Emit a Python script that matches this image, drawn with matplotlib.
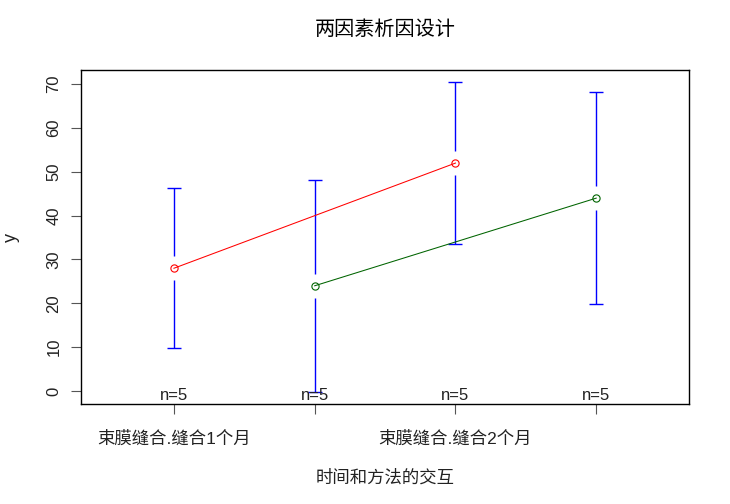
import matplotlib
matplotlib.use("Agg")
import matplotlib.pyplot as plt
import numpy as np

plt.rcParams['font.family'] = ['Liberation Sans', 'Noto Sans CJK SC']

# group means and half-widths of the confidence intervals
means = [28.0, 24.0, 52.0, 44.0]
half_ci = [18.3, 24.2, 18.4, 24.2]
counts = [5, 5, 5, 5]
line_groups = [[0, 2], [1, 3]]
line_colours = ['red', 'darkgreen']
tick_labels = ['束膜缝合.缝合1个月', '', '束膜缝合.缝合2个月', '']

title = '两因素析因设计'
xlabel = '时间和方法的交互'
ylabel = 'y'

fig = plt.figure(figsize=(7.3, 5.04), dpi=100)
ax = fig.add_axes([0.111, 0.198, 0.833, 0.663])

x = np.arange(1, len(means) + 1)
m = np.array(means)
h = np.array(half_ci)
lo, hi = m - h, m + h

ax.set_xlim(0.34, len(means) + 0.66)
span = hi.max() - lo.min()
ax.set_ylim(lo.min() - 0.04 * span, hi.max() + 0.04 * span)

# gap around each point, like plotmeans
fig.canvas.draw()
px_per_unit = ax.transData.transform((0, 1))[1] - ax.transData.transform((0, 0))[1]
gap = 12 / px_per_unit
cap = 0.05

ax.vlines(x, m + gap, hi, color='blue', lw=1)
ax.vlines(x, lo, m - gap, color='blue', lw=1)
ax.hlines(hi, x - cap, x + cap, color='blue', lw=1)
ax.hlines(lo, x - cap, x + cap, color='blue', lw=1)

for idx, col in zip(line_groups, line_colours):
    ax.plot(x[idx], m[idx], color=col, lw=0.75, marker='o', ms=5.2,
            mfc='none', mec=col, mew=0.8)

for xi, n in zip(x, counts):
    ax.annotate(f'n={n}', (xi, 0), xycoords=('data', 'axes fraction'),
                xytext=(0, 3), textcoords='offset points',
                ha='center', va='baseline', fontsize=12, color='#222222')

ax.set_xticks(x)
ax.set_xticklabels(tick_labels, fontsize=12.5)
ax.set_yticks(np.arange(0, 71, 10))
ax.set_yticklabels([str(v) for v in range(0, 71, 10)], rotation=90, va='center', fontsize=12)
ax.tick_params(axis='x', length=7, pad=12, color='#555555', labelcolor='#222222')
ax.tick_params(axis='y', length=7, pad=7, color='#555555', labelcolor='#222222')
for s in ax.spines.values():
    s.set_linewidth(1)

ax.set_title(title, fontsize=14.5, pad=25)
ax.set_xlabel(xlabel, fontsize=12.5, labelpad=16, color='#222222')
ax.set_ylabel(ylabel, fontsize=13, color='#222222', va='center')
ax.yaxis.set_label_coords(-0.115, 0.5)

fig.savefig('out.png', dpi=100)
